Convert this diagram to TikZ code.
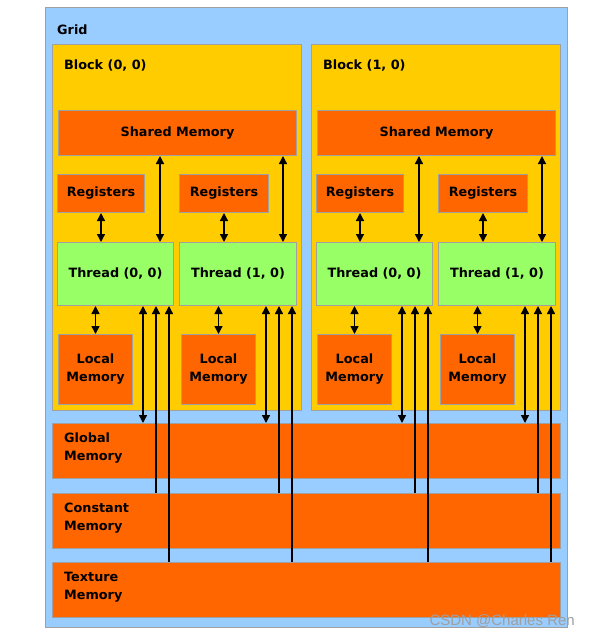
\documentclass[tikz,border=0pt]{standalone}
\usepackage{fontspec}
\setmainfont{DejaVu Sans}
\newfontfamily\wmfont{Liberation Sans}
\usetikzlibrary{arrows.meta}
\definecolor{gridblue}{HTML}{99CCFF}
\definecolor{blockyel}{HTML}{FFCC00}
\definecolor{memorange}{HTML}{FF6600}
\definecolor{thgreen}{HTML}{99FF66}
\definecolor{edgegrey}{HTML}{A0A0A0}
\tikzset{
  x=1pt, y=-1pt,
  basebox/.style={draw=edgegrey, line width=1pt, anchor=north west, inner sep=0pt, font=\bfseries\fontsize{12.8}{18}\selectfont, align=center},
  gridbox/.style={basebox, fill=gridblue},
  blockbox/.style={basebox, fill=blockyel},
  orbox/.style={basebox, fill=memorange},
  thbox/.style={basebox, fill=thgreen},
  lbl/.style={anchor=west, inner sep=0pt, font=\bfseries\fontsize{12.8}{18}\selectfont, align=left},
  dbl/.style={line width=1.4pt, {Triangle[width=8pt,length=8pt]}-{Triangle[width=8pt,length=8pt]}},
  upar/.style={line width=1.4pt, {Triangle[width=8pt,length=8pt]}-},
}
\begin{document}
\begin{tikzpicture}
\useasboundingbox (0,0) rectangle (589,637);
\fill[white] (0,0) rectangle (589,637);
\node[gridbox, minimum width=522pt, minimum height=620pt] (grid) at (45,7) {};
\node[lbl] (gridlbl) at (57,30) {Grid};
\foreach \b/\ox/\bx in {0/0/0,1/259/1}{
  \node[blockbox, minimum width=249pt, minimum height=366pt] (blk\b) at (52+\ox,44) {};
  \node[lbl] (blklbl\b) at (64+\ox,66) {Block (\bx, 0)};
  \node[orbox, minimum width=238pt, minimum height=45pt] (sm\b) at (58+\ox,110) {Shared Memory};
  \node[orbox, minimum width=87pt, minimum height=38pt] (rg\b0) at (57+\ox,174) {Registers};
  \node[orbox, minimum width=89pt, minimum height=38pt] (rg\b1) at (179+\ox,174) {Registers};
  \node[thbox, minimum width=116pt, minimum height=63pt] (th\b0) at (57+\ox,242) {Thread (0, 0)};
  \node[thbox, minimum width=117pt, minimum height=63pt] (th\b1) at (179+\ox,242) {Thread (1, 0)};
  \node[orbox, minimum width=74pt, minimum height=70pt] (lm\b0) at (58+\ox,334) {Local\\Memory};
  \node[orbox, minimum width=74pt, minimum height=70pt] (lm\b1) at (181+\ox,334) {Local\\Memory};
}
\node[orbox, minimum width=508pt, minimum height=55pt] (gm) at (52,423) {};
\node[lbl] (gmlbl) at (64,448) {Global\\Memory};
\node[orbox, minimum width=508pt, minimum height=55pt] (cm) at (52,493) {};
\node[lbl] (cmlbl) at (64,518) {Constant\\Memory};
\node[orbox, minimum width=508pt, minimum height=55pt] (tm) at (52,562) {};
\node[lbl] (tmlbl) at (64,587) {Texture\\Memory};
\foreach \b in {0,1}{
  \foreach \t in {0,1}{
    \draw[dbl] (rg\b\t.south) -- (th\b\t.north -| rg\b\t.south);
    \coordinate (sa\b\t) at ([xshift=-14pt]th\b\t.north east);
    \draw[dbl] (sm\b.south -| sa\b\t) -- (sa\b\t);
    \draw[dbl] (th\b\t.south -| lm\b\t.north) -- (lm\b\t.north);
    \coordinate (ga\b\t) at ([xshift=-31pt]th\b\t.south east);
    \coordinate (ca\b\t) at ([xshift=-18pt]th\b\t.south east);
    \coordinate (ta\b\t) at ([xshift=-5pt]th\b\t.south east);
    \draw[dbl] (ga\b\t) -- (gm.north -| ga\b\t);
    \draw[upar] (ca\b\t) -- (cm.north -| ca\b\t);
    \draw[upar] (ta\b\t) -- (tm.north -| ta\b\t);
  }
}
\node[anchor=east, inner sep=0pt, font=\wmfont\fontsize{15}{17}\selectfont, text=gray!75, draw=none] (wm) at (575,621) {CSDN @Charles Ren};
\end{tikzpicture}
\end{document}
